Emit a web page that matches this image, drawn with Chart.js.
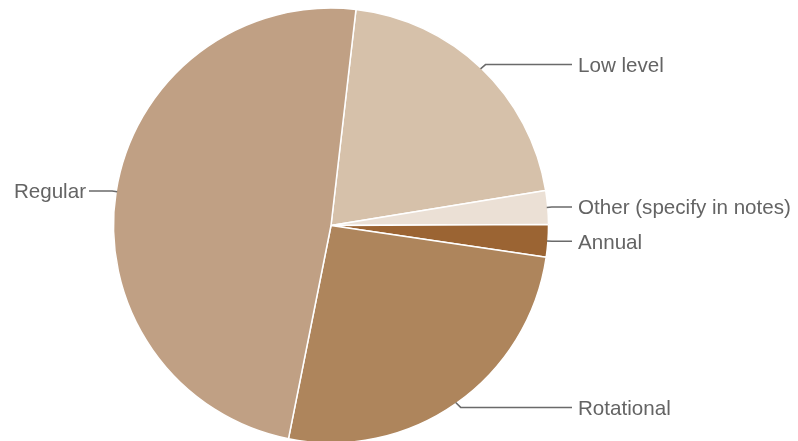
<!DOCTYPE html>
<html>
<head>
<meta charset="utf-8">
<script src="https://cdn.jsdelivr.net/npm/chart.js@4/dist/chart.umd.min.js"></script>
<style>
  html, body { margin: 0; padding: 0; background: #fff; }
  #wrap { width: 798px; height: 441px; }
</style>
</head>
<body>
<div id="wrap"><canvas id="myChart" width="798" height="441"></canvas></div>
<script>
// datos (porcentajes aprox.)
const categorias = ["Low level", "Other (specify in notes)", "Annual", "Rotational", "Regular"];
const valores = [20.6, 2.5, 2.4, 25.8, 48.7];
const colores = ["#d6c1aa", "#ebe0d5", "#9b6433", "#ae855c", "#c0a084"];

// etiquetas con linea guia, estilo google
const guias = {
  id: "guias",
  afterDatasetsDraw(chart) {
    const ctx = chart.ctx;
    const meta = chart.getDatasetMeta(0);
    ctx.save();
    ctx.font = "20.6px 'Liberation Sans', Arial, sans-serif";
    ctx.textBaseline = "middle";
    ctx.lineWidth = 1.5;
    ctx.strokeStyle = "#6a6a6a";
    ctx.fillStyle = "#646464";
    meta.data.forEach((arc, i) => {
      const p = arc.getProps(["x", "y", "startAngle", "endAngle", "outerRadius"], true);
      const mid = (p.startAngle + p.endAngle) / 2;
      const cos = Math.cos(mid), sin = Math.sin(mid);
      const sx = p.x + cos * (p.outerRadius - 1);
      const sy = p.y + sin * (p.outerRadius - 1);
      const ly = p.y + sin * (p.outerRadius + 5);
      const derecha = cos >= 0;
      const kx = sx + (derecha ? 5 : -5);
      const ex = derecha ? 572 : 89;
      ctx.beginPath();
      ctx.moveTo(sx, sy);
      ctx.lineTo(kx, ly);
      ctx.lineTo(ex, ly);
      ctx.stroke();
      ctx.textAlign = derecha ? "left" : "right";
      ctx.fillText(categorias[i], derecha ? ex + 6 : ex - 3, ly + 1.5);
    });
    ctx.restore();
  }
};

const ctx = document.getElementById("myChart").getContext("2d");
new Chart(ctx, {
  type: "pie",
  data: {
    labels: categorias,
    datasets: [{
      data: valores,
      backgroundColor: colores,
      borderColor: "#ffffff",
      borderWidth: 1.5,
      radius: 217.5
    }]
  },
  options: {
    responsive: false,
    devicePixelRatio: 1,
    animation: false,
    rotation: 6.6,
    layout: { padding: { left: 0, right: 136, top: 10, bottom: 0 } },
    plugins: {
      legend: { display: false },
      tooltip: { enabled: false }
    }
  },
  plugins: [guias]
});
</script>
</body>
</html>
